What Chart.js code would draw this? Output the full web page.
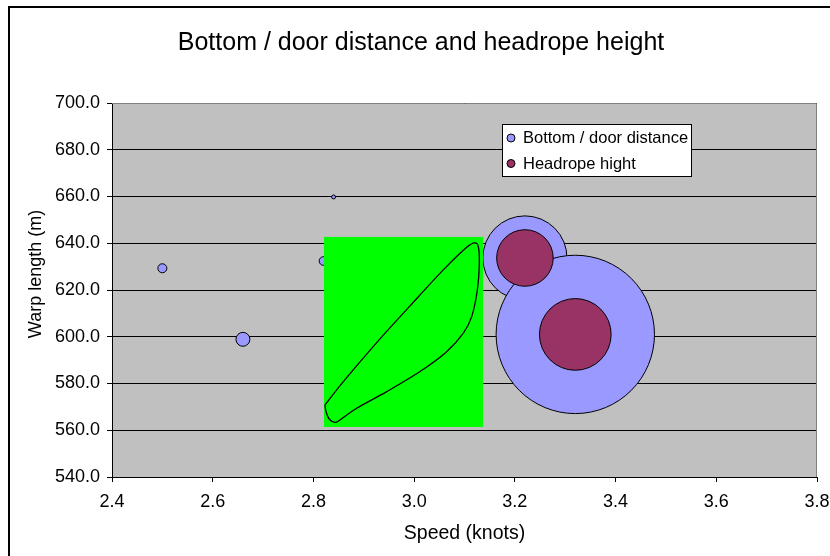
<!DOCTYPE html>
<html>
<head>
<meta charset="utf-8">
<title>Bottom / door distance and headrope height</title>
<script src="https://cdn.jsdelivr.net/npm/chart.js@4.4.1/dist/chart.umd.min.js"></script>
<style>
  html, body { margin: 0; padding: 0; background: #ffffff; }
  #wrap { width: 830px; height: 556px; position: relative; }
</style>
</head>
<body>
<div id="wrap"><canvas id="chart" width="830" height="556"></canvas></div>
<script>
// Tow measurements: speed (knots) against warp length (m)
const speed        = [2.50, 2.66, 2.82, 2.84, 3.22, 3.32];
const warpLength   = [629.3, 598.9, 632.4, 659.8, 633.7, 601.0];
const bottomDoor   = [0.13, 0.31, 0.12, 0.025, 11.3, 40.0];

const headSpeed    = [3.22, 3.32];
const headWarp     = [633.7, 601.0];
const headropeHigh = [5.1, 8.2];

// Axis ticks
const xTicks = [2.4, 2.6, 2.8, 3.0, 3.2, 3.4, 3.6, 3.8];
const yTicks = [540, 560, 580, 600, 620, 640, 660, 680, 700];

// Highlighted working zone and its envelope curve (speed, warp length)
const zoneSpeed = [2.821, 3.137];
const zoneWarp  = [561.4, 642.7];
const envSpeed = [2.8230, 2.8594, 2.9256, 2.9918, 3.0579, 3.1044, 3.1208, 3.1275, 3.1294, 3.1255,
                  3.1143, 3.0977, 3.0646, 3.0116, 2.9455, 2.8859, 2.8528, 2.8428, 2.8316, 2.8250, 2.8230];
const envWarp  = [570.8, 580.8, 597.5, 613.2, 628.6, 638.3, 640.2, 638.5, 631.4, 620.0,
                  608.6, 601.5, 593.6, 585.1, 576.5, 569.4, 564.4, 563.4, 564.7, 567.9, 570.8];

const FONT = '"Liberation Sans", Arial, Helvetica, sans-serif';
const BLUE = '#9999FF';
const PLUM = '#993366';
const BUBBLE_SCALE = 12.52; // px radius per sqrt(size unit)

function bubbles(xs, ys, sizes) {
  return xs.map((x, i) => ({ x: x, y: ys[i], r: BUBBLE_SCALE * Math.sqrt(sizes[i]) }));
}

function catmullPath(ctx, pts) {
  ctx.moveTo(pts[0][0], pts[0][1]);
  for (let i = 0; i < pts.length - 1; i++) {
    const p0 = pts[Math.max(0, i - 1)];
    const p1 = pts[i];
    const p2 = pts[i + 1];
    const p3 = pts[Math.min(pts.length - 1, i + 2)];
    const c1x = p1[0] + (p2[0] - p0[0]) / 6, c1y = p1[1] + (p2[1] - p0[1]) / 6;
    const c2x = p2[0] - (p3[0] - p1[0]) / 6, c2y = p2[1] - (p3[1] - p1[1]) / 6;
    ctx.bezierCurveTo(c1x, c1y, c2x, c2y, p2[0], p2[1]);
  }
}

const decor = {
  id: 'decor',
  beforeDraw(chart) {
    const ctx = chart.ctx, a = chart.chartArea;
    ctx.save();
    ctx.fillStyle = '#ffffff';
    ctx.fillRect(0, 0, chart.width, chart.height);
    ctx.strokeStyle = '#000000';
    ctx.lineWidth = 2;
    ctx.strokeRect(9, 7, 840, 580);
    ctx.fillStyle = '#C0C0C0';
    ctx.fillRect(a.left, a.top, a.right - a.left, a.bottom - a.top);
    ctx.restore();
  },
  afterDatasetsDraw(chart) {
    const ctx = chart.ctx, xs = chart.scales.x, ys = chart.scales.y;
    ctx.save();
    const x0 = xs.getPixelForValue(zoneSpeed[0]), x1 = xs.getPixelForValue(zoneSpeed[1]);
    const y0 = ys.getPixelForValue(zoneWarp[1]), y1 = ys.getPixelForValue(zoneWarp[0]);
    ctx.fillStyle = '#00FF00';
    ctx.fillRect(x0, y0, x1 - x0, y1 - y0);
    const pts = envSpeed.map((v, i) => [xs.getPixelForValue(v), ys.getPixelForValue(envWarp[i])]);
    ctx.beginPath();
    catmullPath(ctx, pts);
    ctx.strokeStyle = '#000000';
    ctx.lineWidth = 1.3;
    ctx.stroke();
    ctx.restore();
  },
  afterDraw(chart) {
    const ctx = chart.ctx, a = chart.chartArea;
    ctx.save();
    // plot frame, top and right
    ctx.strokeStyle = '#808080';
    ctx.lineWidth = 1;
    ctx.beginPath();
    ctx.moveTo(a.left, a.top + 0.5);
    ctx.lineTo(a.right - 0.5, a.top + 0.5);
    ctx.lineTo(a.right - 0.5, a.bottom);
    ctx.stroke();

    ctx.fillStyle = '#000000';
    ctx.textAlign = 'center';
    ctx.textBaseline = 'alphabetic';
    ctx.font = '25px ' + FONT;
    ctx.fillText('Bottom / door distance and headrope height', 421, 50);

    ctx.font = '19.5px ' + FONT;
    ctx.textBaseline = 'middle';
    ctx.fillText('Speed (knots)', (a.left + a.right) / 2, 534);

    ctx.save();
    ctx.translate(36, 274);
    ctx.rotate(-Math.PI / 2);
    ctx.font = '18px ' + FONT;
    ctx.fillText('Warp length (m)', 0, 0);
    ctx.restore();

    // legend
    ctx.fillStyle = '#ffffff';
    ctx.fillRect(502.5, 124.5, 189, 52);
    ctx.strokeStyle = '#000000';
    ctx.strokeRect(502.5, 124.5, 189, 52);
    const rows = [['Bottom / door distance', BLUE, 138], ['Headrope hight', PLUM, 163.5]];
    ctx.font = '16.5px ' + FONT;
    ctx.textAlign = 'left';
    rows.forEach(([label, col, y]) => {
      ctx.beginPath();
      ctx.arc(511, y, 4, 0, Math.PI * 2);
      ctx.fillStyle = col;
      ctx.fill();
      ctx.strokeStyle = '#000000';
      ctx.lineWidth = 1;
      ctx.stroke();
      ctx.fillStyle = '#000000';
      ctx.fillText(label, 523, y + 0.5);
    });
    ctx.restore();
  }
};

new Chart(document.getElementById('chart'), {
  type: 'bubble',
  data: {
    datasets: [
      {
        label: 'Headrope hight',
        data: bubbles(headSpeed, headWarp, headropeHigh),
        backgroundColor: PLUM,
        borderColor: '#000000',
        borderWidth: 1,
        hoverBorderWidth: 1,
        order: 0
      },
      {
        label: 'Bottom / door distance',
        data: bubbles(speed, warpLength, bottomDoor),
        backgroundColor: BLUE,
        borderColor: '#000000',
        borderWidth: 1,
        hoverBorderWidth: 1,
        order: 1
      }
    ]
  },
  options: {
    responsive: false,
    animation: false,
    devicePixelRatio: 1,
    layout: { autoPadding: false, padding: { left: 0, top: 103, right: 13, bottom: 0 } },
    plugins: { legend: { display: false }, title: { display: false }, tooltip: { enabled: false } },
    events: [],
    scales: {
      x: {
        type: 'linear',
        min: 2.4, max: 3.8,
        afterFit: s => { s.height = 79; s.paddingLeft = 0; s.paddingRight = 0; },
        afterBuildTicks: s => { s.ticks = xTicks.map(v => ({ value: v })); },
        grid: { drawOnChartArea: false, color: '#000000', tickLength: 5, lineWidth: 1 },
        border: { color: '#000000', width: 1 },
        ticks: { color: '#000000', font: { family: FONT, size: 18 }, padding: 9, maxRotation: 0,
                 callback: v => Number(v).toFixed(1) }
      },
      y: {
        type: 'linear',
        min: 540, max: 700,
        afterFit: s => { s.width = 112; s.paddingTop = 0; s.paddingBottom = 0; },
        afterBuildTicks: s => { s.ticks = yTicks.map(v => ({ value: v })); },
        grid: { color: '#000000', tickLength: 5, lineWidth: 1 },
        border: { color: '#000000', width: 1 },
        ticks: { color: '#000000', font: { family: FONT, size: 18 }, padding: 7,
                 callback: v => Number(v).toFixed(1) }
      }
    }
  },
  plugins: [decor]
});
</script>
</body>
</html>
